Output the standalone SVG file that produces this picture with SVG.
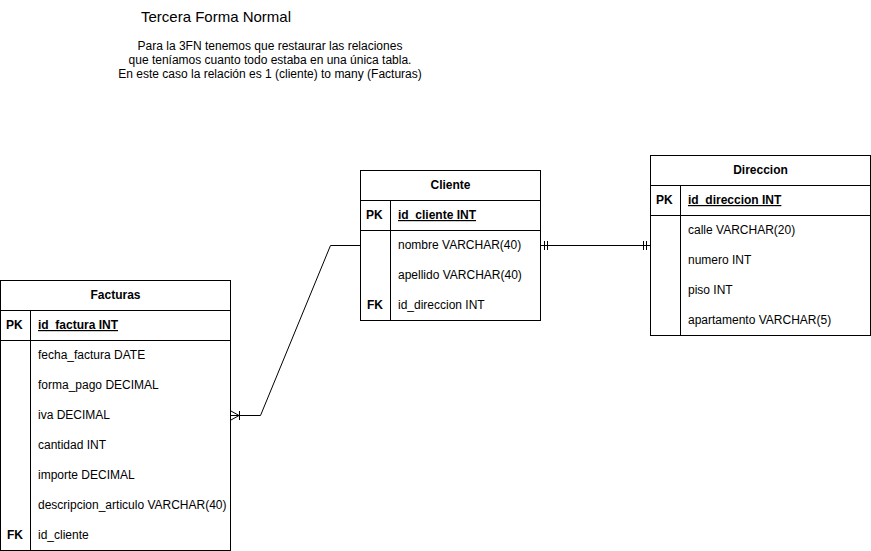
<svg xmlns="http://www.w3.org/2000/svg" width="871" height="551" viewBox="0 0 871 551">
  <style>
    text { font-family: "Liberation Sans", Arial, sans-serif; font-size: 12px; fill: #000; }
    .box { fill: #fff; stroke: #000; stroke-width: 1; }
    .ln { stroke: #000; stroke-width: 1; fill: none; }
    .hd { font-weight: bold; text-anchor: middle; }
    .key { font-weight: bold; }
    .pk { font-weight: bold; text-decoration: underline; }
    .title { font-size: 15px; }
    .note { text-anchor: middle; }
  </style>
  <rect width="871" height="551" fill="#fff"/>

  <!-- heading and explanation -->
  <text class="title" x="141" y="22">Tercera Forma Normal</text>
  <text class="note" x="270" y="50">Para la 3FN tenemos que restaurar las relaciones</text>
  <text class="note" x="270" y="64">que teníamos cuanto todo estaba en una única tabla.</text>
  <text class="note" x="270" y="78">En este caso la relación es 1 (cliente) to many (Facturas)</text>

  <!-- relationships -->
  <g id="connectors">
    <!-- Cliente 1 — N Facturas -->
    <polyline class="ln" points="360.5,245.5 330.5,245.5 260.5,415.5 231,415.5"/>
    <path class="ln" d="M231,411 L239,415.5 L231,420 M239.5,411 V420"/>
    <!-- Cliente 1 — 1 Direccion -->
    <line class="ln" x1="540.5" y1="245.5" x2="650.5" y2="245.5"/>
    <path class="ln" d="M544.5,241 V250 M547.5,241 V250 M643.5,241 V250 M646.5,241 V250"/>
  </g>

  <g id="cliente">
    <rect class="box" x="360.5" y="170.5" width="180" height="150"/>
    <line class="ln" x1="360.5" y1="200.5" x2="540.5" y2="200.5"/>
    <line class="ln" x1="360.5" y1="230.5" x2="540.5" y2="230.5"/>
    <line class="ln" x1="390.5" y1="200.5" x2="390.5" y2="320.5"/>
    <text class="hd" x="450.5" y="189">Cliente</text>
    <text class="key" x="366" y="219">PK</text>
    <text class="pk" x="398" y="219">id_cliente INT</text>
    <text x="398" y="249">nombre VARCHAR(40)</text>
    <text x="398" y="279">apellido VARCHAR(40)</text>
    <text class="key" x="367" y="309">FK</text>
    <text x="398" y="309">id_direccion INT</text>
  </g>

  <g id="direccion">
    <rect class="box" x="650.5" y="155.5" width="220" height="180"/>
    <line class="ln" x1="650.5" y1="185.5" x2="870.5" y2="185.5"/>
    <line class="ln" x1="650.5" y1="215.5" x2="870.5" y2="215.5"/>
    <line class="ln" x1="680.5" y1="185.5" x2="680.5" y2="335.5"/>
    <text class="hd" x="760.5" y="174">Direccion</text>
    <text class="key" x="656" y="204">PK</text>
    <text class="pk" x="688" y="204">id_direccion INT</text>
    <text x="688" y="234">calle VARCHAR(20)</text>
    <text x="688" y="264">numero INT</text>
    <text x="688" y="294">piso INT</text>
    <text x="688" y="324">apartamento VARCHAR(5)</text>
  </g>

  <g id="facturas">
    <rect class="box" x="0.5" y="280.5" width="230" height="270"/>
    <line class="ln" x1="0.5" y1="310.5" x2="230.5" y2="310.5"/>
    <line class="ln" x1="0.5" y1="340.5" x2="230.5" y2="340.5"/>
    <line class="ln" x1="30.5" y1="310.5" x2="30.5" y2="550.5"/>
    <text class="hd" x="115.5" y="299">Facturas</text>
    <text class="key" x="6" y="329">PK</text>
    <text class="pk" x="38" y="329">id_factura INT</text>
    <text x="38" y="359">fecha_factura DATE</text>
    <text x="38" y="389">forma_pago DECIMAL</text>
    <text x="38" y="419">iva DECIMAL</text>
    <text x="38" y="449">cantidad INT</text>
    <text x="38" y="479">importe DECIMAL</text>
    <text x="38" y="509">descripcion_articulo VARCHAR(40)</text>
    <text class="key" x="7" y="539">FK</text>
    <text x="38" y="539">id_cliente</text>
  </g>
</svg>
